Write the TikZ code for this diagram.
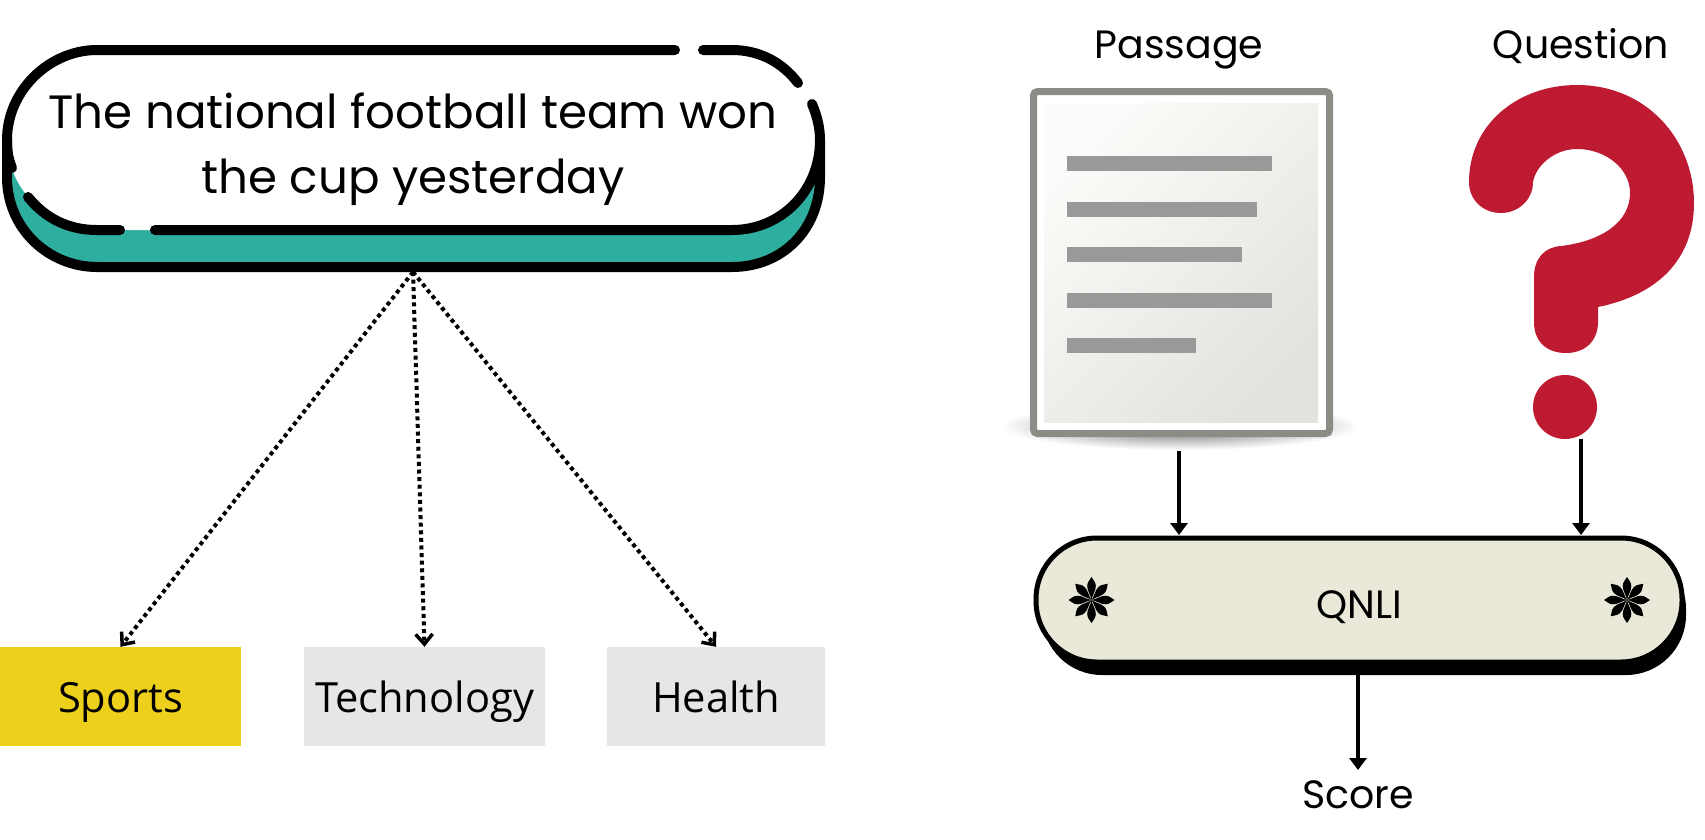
\documentclass[tikz,border=0pt]{standalone}
\usepackage{fontspec}
\setmainfont{Poppins}
\newfontfamily\plexlike{Open Sans}
\usetikzlibrary{arrows.meta,calc}
\definecolor{tealfill}{HTML}{2EAE9E}
\definecolor{sportsyellow}{HTML}{EDD01C}
\definecolor{boxgray}{HTML}{E6E6E6}
\definecolor{qnlifill}{HTML}{EAE8D9}
\definecolor{qred}{HTML}{BE1B33}
\definecolor{framegray}{HTML}{8A8C86}
\definecolor{barsgray}{HTML}{999999}
\definecolor{paperlight}{HTML}{FBFBF9}
\definecolor{paperdark}{HTML}{E2E2DE}
\tikzset{
  pillline/.style={line width=10pt,line cap=round,line join=round,draw=black},
  topicbox/.style={inner sep=0pt,minimum height=99pt,text height=65pt,text depth=34pt,font=\plexlike\fontsize{41.6}{48}\selectfont},
  dotarrow/.style={line width=4pt,dash pattern=on 4pt off 3.6pt,-{Straight Barb[length=10pt,width=17pt,line width=3.5pt]}},
  solidarrow/.style={line width=3.6pt,-{Triangle[length=12pt,width=17pt]}},
  caption/.style={inner sep=0pt,anchor=base,font=\fontsize{39.5}{46}\selectfont},
  docbar/.style={fill=barsgray,draw=none},
  petal/.style={fill=black,draw=none}
}
\newcommand{\flowermark}[1]{%
  \foreach \ang in {0,45,...,315}{
    \fill[petal,shift={#1},rotate=\ang] (0,0) .. controls (0.8,-5) and (4.3,-9) .. (4.3,-14) .. controls (4.3,-18) and (1.5,-20) .. (0,-23) .. controls (-1.5,-20) and (-4.3,-18) .. (-4.3,-14) .. controls (-4.3,-9) and (-0.8,-5) .. (0,0) -- cycle;
  }}
\begin{document}
\begin{tikzpicture}[x=1pt,y=-1pt]
\useasboundingbox (0,0) rectangle (1705,839);
% --- sentence pill ---
\fill[tealfill] (7,140) -- (7,177) .. controls (7,230) and (50,267) .. (97,267) -- (732,267) .. controls (782,267) and (820,230) .. (820,177) -- (820,140) -- cycle;
\fill[white] (7,140) .. controls (7,90) and (50,50) .. (97,50) -- (732,50) .. controls (782,50) and (820,90) .. (820,140) .. controls (820,190) and (782,230) .. (732,230) -- (97,230) .. controls (50,230) and (7,190) .. (7,140) -- cycle;
\draw[pillline] (12,168) .. controls (8,158) and (7,150) .. (7,140) .. controls (7,90) and (50,50) .. (97,50) -- (675,50);
\draw[pillline] (703,50) -- (732,50) .. controls (759,50) and (782,62) .. (798,83);
\draw[pillline] (812,104) .. controls (818,118) and (820,130) .. (820,140) .. controls (820,190) and (782,230) .. (732,230) -- (155,230);
\draw[pillline] (120,230) -- (97,230) .. controls (68,230) and (45,218) .. (28,197);
\draw[pillline] (7,140) -- (7,177) .. controls (7,230) and (50,267) .. (97,267) -- (732,267) .. controls (782,267) and (820,230) .. (820,177) -- (820,140);
\node[inner sep=0pt,align=center,font=\fontsize{46.7}{65}\selectfont] (sentence) at (413,149) {The national football team won\\the cup yesterday};
\coordinate (apex) at (413,272);
% --- topic boxes ---
\node[topicbox,fill=sportsyellow,minimum width=241pt] (sports) at (120.5,696.5) {Sports};
\node[topicbox,fill=boxgray,minimum width=241pt] (technology) at (424.5,696.5) {Technology};
\node[topicbox,fill=boxgray,minimum width=218pt] (health) at (716,696.5) {Health};
\draw[dotarrow] (apex) -- (sports.north);
\draw[dotarrow] (apex) -- (technology.north);
\draw[dotarrow] (apex) -- (health.north);
% --- passage document ---
\shade[inner color=black!62,outer color=white,draw=none] (1180,426) ellipse [x radius=179,y radius=24];
\draw[framegray,line width=7pt,rounded corners=4pt,fill=white] (1033.5,91.5) rectangle (1329.5,433.5);
\shade[top color=paperlight,bottom color=paperdark,shading angle=45,draw=none] (1044,103) rectangle (1318,422);
\fill[docbar] (1067,156) rectangle (1272,171);
\fill[docbar] (1067,202) rectangle (1257,217);
\fill[docbar] (1067,247) rectangle (1242,262);
\fill[docbar] (1067,293) rectangle (1272,308);
\fill[docbar] (1067,338) rectangle (1196,353);
% --- question mark ---
\begin{scope}[shift={(-3,0)}]
\fill[qred] (1472,182) .. controls (1472,125) and (1520,85) .. (1580,85)
  .. controls (1650,85) and (1697,140) .. (1697,203)
  .. controls (1697,260) and (1660,295) .. (1601,307)
  -- (1601,322) .. controls (1601,342) and (1587,353) .. (1569,353)
  .. controls (1550,353) and (1537,342) .. (1537,322)
  -- (1537,277) .. controls (1537,258) and (1548,247) .. (1564,246)
  .. controls (1605,241) and (1633,222) .. (1633,193)
  .. controls (1633,168) and (1608,149) .. (1580,149)
  .. controls (1558,149) and (1539,165) .. (1536,182)
  .. controls (1536,200) and (1521,213) .. (1504,213)
  .. controls (1486,213) and (1472,200) .. (1472,182) -- cycle;
\fill[qred] (1568,407) circle [radius=32];
\end{scope}
% --- captions ---
\node[caption] (passage) at (1179,58) {Passage};
\node[caption] (question) at (1581,58) {Question};
% --- QNLI pill ---
\fill[black,rounded corners=60pt] (1042,549) rectangle (1686,675);
\node[draw=black,line width=5pt,fill=qnlifill,rounded corners=61pt,minimum width=646pt,minimum height=124pt,inner sep=0pt,text height=80pt,text depth=44pt,font=\fontsize{39.5}{46}\selectfont] (qnli) at (1359,600) {QNLI};
\flowermark{(1091.5,600)}
\flowermark{(1627,600)}
\node[caption] (score) at (1358,808) {Score};
\coordinate (passagefoot) at (1179,451);
\coordinate (questionfoot) at (1581,439);
\coordinate (passagein) at (1179,535);
\coordinate (questionin) at (1581,535);
\coordinate (scoreout) at (1358,675);
\coordinate (scoretip) at (1358,770);
\draw[solidarrow] (passagefoot) -- (passagein);
\draw[solidarrow] (questionfoot) -- (questionin);
\draw[solidarrow] (scoreout) -- (scoretip);
\end{tikzpicture}
\end{document}
